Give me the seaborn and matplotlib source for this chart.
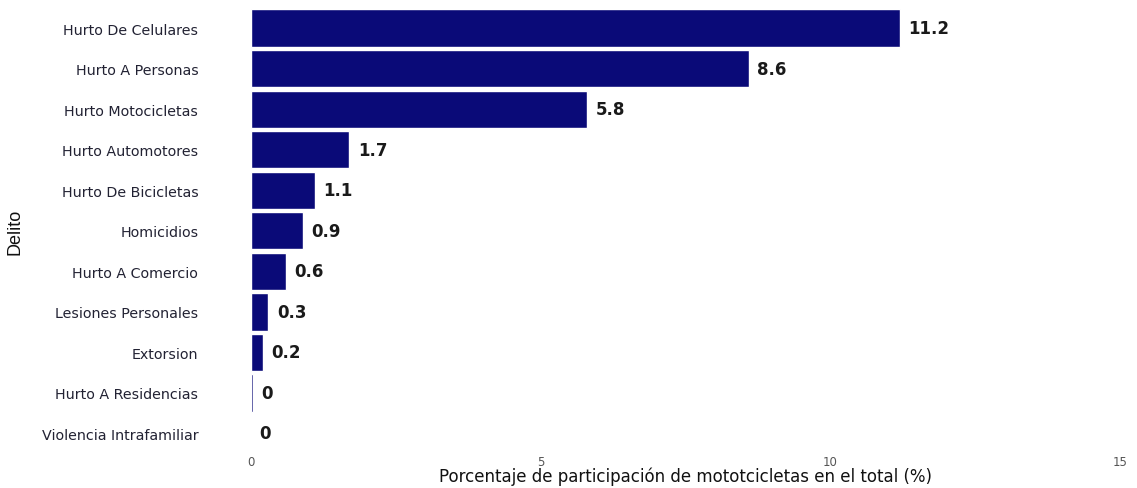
"""Participacion de motocicletas por tipo de delito - barras horizontales."""

import matplotlib
matplotlib.use("Agg")
import matplotlib.pyplot as plt
import seaborn as sns
import pandas as pd

delitos = [
    "Hurto De Celulares",
    "Hurto A Personas",
    "Hurto Motocicletas",
    "Hurto Automotores",
    "Hurto De Bicicletas",
    "Homicidios",
    "Hurto A Comercio",
    "Lesiones Personales",
    "Extorsion",
    "Hurto A Residencias",
    "Violencia Intrafamiliar",
]
porcentajes = [11.2, 8.6, 5.8, 1.7, 1.1, 0.9, 0.6, 0.3, 0.2, 0.03, 0.0]
x_ticks = [0, 5, 10, 15]

df = pd.DataFrame({"Delito": delitos, "Porcentaje": porcentajes})

sns.set_theme(style="white")
plt.rcParams["font.family"] = ["DejaVu Sans"]

fig = plt.figure(figsize=(11.37, 4.89), dpi=100)
ax = fig.add_axes([0.2208, 0.07, 0.764, 0.912])

sns.barplot(data=df, x="Porcentaje", y="Delito", color="#0a0a78",
            saturation=1, width=0.92, ax=ax, orient="h")

for i, v in enumerate(porcentajes):
    ax.annotate(f"{round(v, 1):g}", xy=(v, i), xytext=(6, 0),
                textcoords="offset points", va="center", ha="left",
                fontsize=12, fontweight="bold", color="#1a1a1a")

ax.set_xlim(0, 15)
ax.set_xticks(x_ticks)
ax.set_xticklabels([str(t) for t in x_ticks], fontsize=8.5, color="#555555")
ax.tick_params(axis="y", labelsize=10.3, colors="#222233", length=0, pad=38)
ax.tick_params(axis="x", length=0, pad=1)
ax.set_ylabel("Delito", fontsize=13, family=["Liberation Sans Narrow", "Liberation Sans"],
              color="#111111")
ax.yaxis.set_label_coords(-0.262, 0.5)
ax.set_xlabel("Porcentaje de participación de mototcicletas en el total (%)",
              fontsize=12, labelpad=-1, color="#111111")
sns.despine(ax=ax, left=True, bottom=True)

plt.savefig("out.png", dpi=100)
plt.close()
